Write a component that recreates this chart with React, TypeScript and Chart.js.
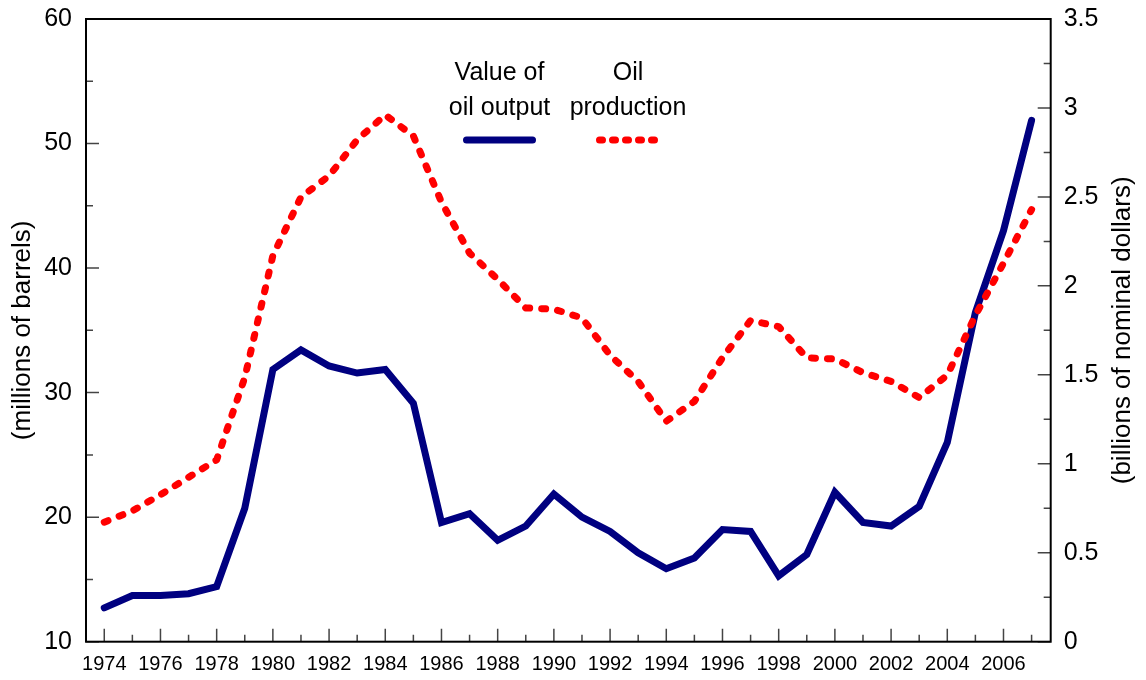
import { useEffect, useRef } from "react";
import { Chart, registerables } from "chart.js";

Chart.register(...registerables);

// ---------- data ----------
const years = [
  1974, 1975, 1976, 1977, 1978, 1979, 1980, 1981, 1982, 1983, 1984, 1985,
  1986, 1987, 1988, 1989, 1990, 1991, 1992, 1993, 1994, 1995, 1996, 1997,
  1998, 1999, 2000, 2001, 2002, 2003, 2004, 2005, 2006, 2007,
];

// Value of oil output (billions of nominal dollars, right axis)
const oilValueBillions = [
  0.19, 0.26, 0.26, 0.27, 0.31, 0.75, 1.53, 1.64, 1.55, 1.51, 1.53, 1.34,
  0.67, 0.72, 0.57, 0.65, 0.83, 0.7, 0.62, 0.5, 0.41, 0.47, 0.63, 0.62,
  0.37, 0.49, 0.84, 0.67, 0.65, 0.76, 1.12, 1.85, 2.31, 2.93,
];

// Oil production (millions of barrels, left axis)
const oilProductionMillions = [
  19.6, 20.5, 21.8, 23.2, 24.6, 31.2, 41.0, 45.7, 47.4, 50.3, 52.3, 50.6,
  45.3, 41.2, 39.1, 36.8, 36.7, 36.0, 33.0, 30.9, 27.7, 29.3, 32.8, 35.8,
  35.3, 32.8, 32.7, 31.6, 30.9, 29.6, 31.4, 36.2, 40.4, 44.7,
];

const seriesNames = ["Value of oil output", "Oil production"];
const legendLines = [
  ["Value of", "oil output"],
  ["Oil", "production"],
];
const leftTitle = "(millions of barrels)";
const rightTitle = "(billions of nominal dollars)";

const FONT = "'Liberation Sans', Arial, Helvetica, sans-serif";
const BLUE = "#000080";
const RED = "#ff0000";

const decorPlugin = {
  id: "decor",
  afterDatasetsDraw(chart: any) {
    const { ctx, chartArea: a, scales } = chart;
    const sx = scales.x;
    const sl = scales.yL;
    const sr = scales.yR;
    ctx.save();
    ctx.strokeStyle = "#444";
    ctx.lineWidth = 1.5;
    ctx.beginPath();
    years.forEach((y) => {
      const px = sx.getPixelForValue(y);
      const len = y % 2 === 0 ? 13 : 7;
      ctx.moveTo(px, a.bottom);
      ctx.lineTo(px, a.bottom - len);
    });
    for (let v = 10; v <= 60; v += 5) {
      const py = sl.getPixelForValue(v);
      const len = v % 10 === 0 ? 13 : 7;
      ctx.moveTo(a.left, py);
      ctx.lineTo(a.left + len, py);
    }
    for (let i = 0; i <= 14; i++) {
      const v = i * 0.25;
      const py = sr.getPixelForValue(v);
      const len = i % 2 === 0 ? 13 : 7;
      ctx.moveTo(a.right, py);
      ctx.lineTo(a.right - len, py);
    }
    ctx.stroke();
    ctx.strokeStyle = "#000";
    ctx.lineWidth = 2;
    ctx.strokeRect(a.left, a.top, a.right - a.left, a.bottom - a.top);
    ctx.restore();
  },
  afterDraw(chart: any) {
    const { ctx, chartArea: a } = chart;
    const midY = (a.top + a.bottom) / 2;
    ctx.save();
    ctx.fillStyle = "#000";
    ctx.font = `26px ${FONT}`;
    ctx.textAlign = "center";
    ctx.textBaseline = "middle";
    ctx.save();
    ctx.translate(23, midY);
    ctx.rotate(-Math.PI / 2);
    ctx.fillText(leftTitle, 0, 0);
    ctx.restore();
    ctx.save();
    ctx.translate(1122.5, midY);
    ctx.rotate(-Math.PI / 2);
    ctx.fillText(rightTitle, 0, 0);
    ctx.restore();

    const ds = chart.data.datasets;
    const items = [
      { lines: legendLines[0], cx: 499.5, ds: ds[1], x0: 466.5, x1: 532.5, dash: [] as number[] },
      { lines: legendLines[1], cx: 628, ds: ds[0], x0: 599.5, x1: 658, dash: [3, 10] },
    ];
    ctx.font = `25px ${FONT}`;
    ctx.textBaseline = "alphabetic";
    items.forEach((it) => {
      ctx.fillStyle = "#000";
      ctx.fillText(it.lines[0], it.cx, 80);
      ctx.fillText(it.lines[1], it.cx, 115);
      ctx.strokeStyle = it.ds.borderColor;
      ctx.lineWidth = 7;
      ctx.lineCap = "round";
      ctx.setLineDash(it.dash);
      ctx.beginPath();
      ctx.moveTo(it.x0, 140);
      ctx.lineTo(it.x1, 140);
      ctx.stroke();
    });
    ctx.restore();
  },
};

export default function App() {
  const canvasRef = useRef<HTMLCanvasElement | null>(null);

  useEffect(() => {
    document.body.style.margin = "0";
    const canvas = canvasRef.current;
    if (!canvas) return;
    const chart = new Chart(canvas, {
      type: "line",
      data: {
        datasets: [
          {
            label: seriesNames[1],
            data: years.map((y, i) => ({ x: y, y: oilProductionMillions[i] })),
            yAxisID: "yL",
            borderColor: RED,
            backgroundColor: RED,
            borderWidth: 7,
            borderDash: [4, 12],
            borderCapStyle: "round",
            borderJoinStyle: "round",
            pointRadius: 0,
            tension: 0,
          },
          {
            label: seriesNames[0],
            data: years.map((y, i) => ({ x: y, y: oilValueBillions[i] })),
            yAxisID: "yR",
            borderColor: BLUE,
            backgroundColor: BLUE,
            borderWidth: 7,
            borderCapStyle: "round",
            borderJoinStyle: "miter",
            pointRadius: 0,
            tension: 0,
          },
        ],
      },
      options: {
        responsive: false,
        animation: false,
        devicePixelRatio: 1,
        layout: { padding: { top: 17, left: 0, right: 0, bottom: 0 } },
        plugins: {
          legend: { display: false },
          tooltip: { enabled: false },
          title: { display: false },
        },
        scales: {
          x: {
            type: "linear",
            min: 1973.35,
            max: 2007.68,
            afterFit: (s: any) => {
              s.height = 38.3;
            },
            grid: { display: false, drawTicks: false },
            border: { display: false },
            ticks: {
              stepSize: 2,
              includeBounds: false,
              autoSkip: false,
              maxRotation: 0,
              minRotation: 0,
              padding: 11,
              color: "#000",
              font: { family: FONT, size: 20 },
              callback: (v: any) => String(v),
            },
          },
          yL: {
            type: "linear",
            position: "left",
            min: 10,
            max: 60,
            afterFit: (s: any) => {
              s.width = 86;
            },
            grid: { display: false, drawTicks: false },
            border: { display: false },
            ticks: {
              stepSize: 10,
              padding: 14,
              color: "#000",
              font: { family: FONT, size: 25, lineHeight: 0.4 },
              callback: (v: any) => String(v),
            },
          },
          yR: {
            type: "linear",
            position: "right",
            min: 0,
            max: 3.5,
            afterFit: (s: any) => {
              s.width = 95.3;
            },
            grid: { display: false, drawTicks: false },
            border: { display: false },
            ticks: {
              stepSize: 0.5,
              padding: 13,
              color: "#000",
              font: { family: FONT, size: 25, lineHeight: 0.4 },
              callback: (v: any) => String(v),
            },
          },
        },
      },
      plugins: [decorPlugin],
    } as any);
    return () => chart.destroy();
  }, []);

  return (
    <div style={{ width: 1146, height: 680, background: "#fff" }}>
      <canvas ref={canvasRef} width={1146} height={680} style={{ display: "block" }} />
    </div>
  );
}
